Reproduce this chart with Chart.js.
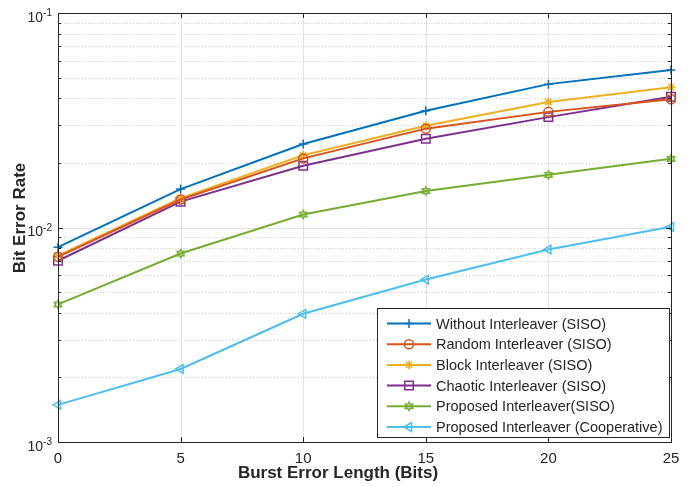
<!DOCTYPE html>
<html>
<head>
<meta charset="utf-8">
<title>BER vs burst error length</title>
<script src="https://cdn.jsdelivr.net/npm/chart.js@4.4.1/dist/chart.umd.min.js"></script>
<style>
  body { margin: 0; background: #fff; }
  canvas { display: block; }
</style>
</head>
<body>
<canvas id="berChart" width="699" height="487"></canvas>
<script>
// values
const burstLen = [0, 5, 10, 15, 20, 25];
const berWithout  = [0.0081, 0.0151, 0.0245, 0.0350, 0.0466, 0.0542];
const berRandom   = [0.0073, 0.0135, 0.0210, 0.0289, 0.0346, 0.0396];
const berBlock    = [0.0074, 0.0137, 0.0217, 0.0298, 0.0385, 0.0451];
const berChaotic  = [0.0070, 0.0132, 0.0194, 0.0259, 0.0327, 0.0407];
const berProposed = [0.00438, 0.00756, 0.0115, 0.0148, 0.0176, 0.0209];
const berCoop     = [0.00149, 0.00219, 0.00396, 0.00572, 0.00789, 0.01007];
const seriesNames = [
  'Without Interleaver (SISO)',
  'Random Interleaver (SISO)',
  'Block Interleaver (SISO)',
  'Chaotic Interleaver (SISO)',
  'Proposed Interleaver(SISO)',
  'Proposed Interleaver (Cooperative)'
];
const xTicks = [0, 5, 10, 15, 20, 25];
const yDecades = [0.001, 0.01, 0.1];
const yDecadeExp = ['-3', '-2', '-1'];

const FONT = "Arial, 'Liberation Sans', Helvetica, sans-serif";
const AXIS_COL = '#262626';

// hexagram marker for the green series
function hexagram(color) {
  const c = document.createElement('canvas');
  c.width = 12; c.height = 12;
  const g = c.getContext('2d');
  g.strokeStyle = color; g.lineWidth = 1.5;
  g.beginPath();
  for (let i = 0; i < 12; i++) {
    const r = i % 2 ? 2.3 : 4.2;
    const a = -Math.PI / 2 + i * Math.PI / 6;
    const px = 6 + r * Math.cos(a), py = 6 + r * Math.sin(a);
    i ? g.lineTo(px, py) : g.moveTo(px, py);
  }
  g.closePath(); g.stroke();
  return c;
}

const colors = ['#0072BD', '#D95319', '#EDB120', '#7E2F8E', '#77AC30', '#4DBEEE'];
const styles = ['cross', 'circle', 'star', 'rect', hexagram(colors[4]), 'triangle'];
const radii = [4.5, 4.5, 4.5, 6, 4.5, 5];
const rots = [0, 0, 0, 0, 0, -90];
const allSeries = [berWithout, berRandom, berBlock, berChaotic, berProposed, berCoop];

const datasets = allSeries.map((vals, i) => ({
  label: seriesNames[i],
  data: vals.map((v, j) => ({ x: burstLen[j], y: v })),
  borderColor: colors[i],
  backgroundColor: 'rgba(0,0,0,0)',
  pointBackgroundColor: 'rgba(0,0,0,0)',
  pointBorderColor: colors[i],
  pointBorderWidth: 1.5,
  borderWidth: 2,
  pointStyle: styles[i],
  pointRadius: radii[i],
  pointRotation: rots[i],
  tension: 0,
  clip: false
}));

function minorValues() {
  const out = [];
  for (let d = 0; d < yDecades.length - 1; d++)
    for (let k = 2; k <= 9; k++) out.push(yDecades[d] * k);
  return out;
}

function drawMarker(ctx, style, x, y, r, rot) {
  if (style instanceof HTMLCanvasElement) {
    ctx.drawImage(style, x - style.width / 2, y - style.height / 2);
    return;
  }
  ctx.beginPath();
  if (style === 'cross' || style === 'star') {
    ctx.moveTo(x - r, y); ctx.lineTo(x + r, y);
    ctx.moveTo(x, y - r); ctx.lineTo(x, y + r);
    if (style === 'star') {
      const o = r * Math.SQRT1_2;
      ctx.moveTo(x - o, y - o); ctx.lineTo(x + o, y + o);
      ctx.moveTo(x - o, y + o); ctx.lineTo(x + o, y - o);
    }
  } else if (style === 'circle') {
    ctx.arc(x, y, r, 0, Math.PI * 2);
  } else if (style === 'rect') {
    const s = r * Math.SQRT1_2;
    ctx.rect(x - s, y - s, 2 * s, 2 * s);
  } else if (style === 'triangle') {
    const a0 = (rot - 90) * Math.PI / 180;
    for (let i = 0; i < 3; i++) {
      const a = a0 + i * 2 * Math.PI / 3;
      const px = x + r * Math.cos(a), py = y + r * Math.sin(a);
      i ? ctx.lineTo(px, py) : ctx.moveTo(px, py);
    }
    ctx.closePath();
  }
  ctx.stroke();
}

const matlabAxes = {
  id: 'matlabAxes',
  beforeDatasetsDraw(chart) {
    const { ctx, chartArea: a, scales } = chart;
    const xs = scales.x, ys = scales.y;
    ctx.save();
    // minor dotted grid
    ctx.strokeStyle = '#cdcdcd';
    ctx.lineWidth = 1;
    ctx.setLineDash([1, 2]);
    minorValues().forEach(v => {
      const py = Math.round(ys.getPixelForValue(v)) + 0.5;
      ctx.beginPath(); ctx.moveTo(a.left, py); ctx.lineTo(a.right, py); ctx.stroke();
    });
    // major solid grid
    ctx.setLineDash([]);
    ctx.strokeStyle = '#e2e2e2';
    yDecades.forEach(v => {
      const py = Math.round(ys.getPixelForValue(v)) + 0.5;
      ctx.beginPath(); ctx.moveTo(a.left, py); ctx.lineTo(a.right, py); ctx.stroke();
    });
    xTicks.forEach(v => {
      const px = Math.round(xs.getPixelForValue(v)) + 0.5;
      ctx.beginPath(); ctx.moveTo(px, a.top); ctx.lineTo(px, a.bottom); ctx.stroke();
    });
    ctx.restore();
  },
  afterDatasetsDraw(chart) {
    const { ctx, chartArea: a, scales } = chart;
    const xs = scales.x, ys = scales.y;
    ctx.save();
    ctx.strokeStyle = AXIS_COL;
    ctx.lineWidth = 1;
    ctx.strokeRect(Math.round(a.left) + 0.5, Math.round(a.top) + 0.5,
      Math.round(a.right - a.left), Math.round(a.bottom - a.top));
    // inward ticks
    ctx.beginPath();
    xTicks.forEach(v => {
      const px = Math.round(xs.getPixelForValue(v)) + 0.5;
      ctx.moveTo(px, a.bottom); ctx.lineTo(px, a.bottom - 5);
      ctx.moveTo(px, a.top); ctx.lineTo(px, a.top + 5);
    });
    yDecades.forEach(v => {
      const py = Math.round(ys.getPixelForValue(v)) + 0.5;
      ctx.moveTo(a.left, py); ctx.lineTo(a.left + 5, py);
      ctx.moveTo(a.right, py); ctx.lineTo(a.right - 5, py);
    });
    minorValues().forEach(v => {
      const py = Math.round(ys.getPixelForValue(v)) + 0.5;
      ctx.moveTo(a.left, py); ctx.lineTo(a.left + 3, py);
      ctx.moveTo(a.right, py); ctx.lineTo(a.right - 3, py);
    });
    ctx.stroke();

    // y tick labels with superscript exponents
    ctx.fillStyle = AXIS_COL;
    ctx.textBaseline = 'middle';
    yDecades.forEach((v, i) => {
      const py = ys.getPixelForValue(v);
      ctx.font = '10px ' + FONT;
      ctx.textAlign = 'right';
      const ew = ctx.measureText(yDecadeExp[i]).width;
      ctx.fillText(yDecadeExp[i], 52, py + 0.5);
      ctx.font = '14px ' + FONT;
      ctx.fillText('10', 52 - ew, py + 5);
    });

    // axis titles
    ctx.font = 'bold 17px ' + FONT;
    ctx.textAlign = 'center';
    ctx.fillText('Burst Error Length (Bits)', 338, 473);
    ctx.save();
    ctx.translate(20, 218);
    ctx.rotate(-Math.PI / 2);
    ctx.fillText('Bit Error Rate', 0, 0);
    ctx.restore();

    // legend box
    const lx = 377.5, ly = 308.5, lw = 292, lh = 129;
    ctx.fillStyle = '#fff';
    ctx.fillRect(lx, ly, lw, lh);
    ctx.strokeStyle = AXIS_COL;
    ctx.strokeRect(lx, ly, lw, lh);
    ctx.font = '14.5px ' + FONT;
    ctx.textAlign = 'left';
    chart.data.datasets.forEach((ds, i) => {
      const cy = 323.5 + i * 20.7;
      ctx.strokeStyle = ds.borderColor;
      ctx.lineWidth = 2;
      ctx.beginPath(); ctx.moveTo(387, cy); ctx.lineTo(431, cy); ctx.stroke();
      ctx.lineWidth = 1.5;
      drawMarker(ctx, ds.pointStyle, 409, cy, ds.pointRadius, ds.pointRotation);
      ctx.fillStyle = AXIS_COL;
      ctx.fillText(ds.label, 436, cy + 1);
    });
    ctx.restore();
  }
};

new Chart(document.getElementById('berChart'), {
  type: 'line',
  data: { datasets },
  plugins: [matlabAxes],
  options: {
    responsive: false,
    animation: false,
    layout: { padding: { left: 0, right: 28, top: 13, bottom: 0 } },
    plugins: { legend: { display: false }, tooltip: { enabled: false } },
    scales: {
      x: {
        type: 'linear', min: 0, max: 25,
        afterBuildTicks: s => { s.ticks = xTicks.map(v => ({ value: v })); },
        afterFit: s => { s.height = 45; },
        grid: { display: false, drawTicks: false },
        border: { display: false },
        ticks: { padding: 8, color: AXIS_COL, font: { family: FONT, size: 15 }, maxRotation: 0 }
      },
      y: {
        type: 'logarithmic', min: 0.001, max: 0.1,
        afterBuildTicks: s => { s.ticks = yDecades.map(v => ({ value: v })); },
        afterFit: s => { s.width = 58; },
        grid: { display: false, drawTicks: false },
        border: { display: false },
        ticks: { display: false }
      }
    }
  }
});
</script>
</body>
</html>
